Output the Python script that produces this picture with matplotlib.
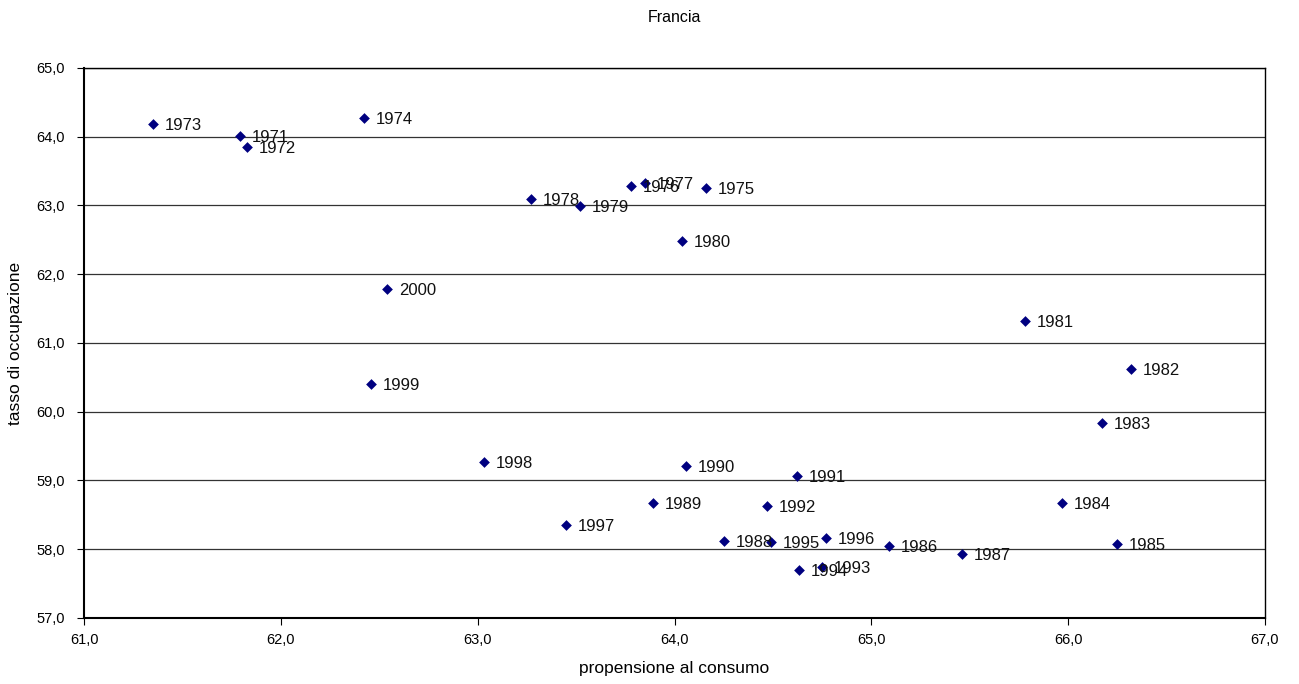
import matplotlib
matplotlib.use("Agg")
import matplotlib.pyplot as plt
from matplotlib.ticker import FuncFormatter, MultipleLocator

plt.rcParams.update({"font.family": ["Liberation Sans", "DejaVu Sans"]})

# propensione al consumo / tasso di occupazione, Francia 1971-2000
years = [1971, 1972, 1973, 1974, 1975, 1976, 1977, 1978, 1979, 1980,
         1981, 1982, 1983, 1984, 1985, 1986, 1987, 1988, 1989, 1990,
         1991, 1992, 1993, 1994, 1995, 1996, 1997, 1998, 1999, 2000]
consumo = [61.79, 61.83, 61.35, 62.42, 64.16, 63.78, 63.85, 63.27, 63.52, 64.04,
           65.78, 66.32, 66.17, 65.97, 66.25, 65.09, 65.46, 64.25, 63.89, 64.06,
           64.62, 64.47, 64.75, 64.63, 64.49, 64.77, 63.45, 63.03, 62.46, 62.54]
occupazione = [64.01, 63.85, 64.19, 64.27, 63.25, 63.28, 63.33, 63.09, 62.99, 62.48,
               61.32, 60.62, 59.84, 58.67, 58.08, 58.05, 57.93, 58.12, 58.67, 59.21,
               59.07, 58.63, 57.74, 57.70, 58.11, 58.16, 58.35, 59.27, 60.40, 61.79]

fig = plt.figure(figsize=(12.99, 6.84), dpi=100)
ax = fig.add_axes([0.0647, 0.0965, 0.9091, 0.8041])

ax.scatter(consumo, occupazione, marker="D", s=30, color="#000080", zorder=3,
           linewidths=0)
for yr, x, y in zip(years, consumo, occupazione):
    ax.annotate(str(yr), (x, y), xytext=(8.5, -1), textcoords="offset points",
                va="center", ha="left", fontsize=12, color="#111111", zorder=4)

ax.set_xlim(61, 67)
ax.set_ylim(57, 65)
ax.xaxis.set_major_locator(MultipleLocator(1))
ax.yaxis.set_major_locator(MultipleLocator(1))
fmt = FuncFormatter(lambda v, p: f"{v:.1f}".replace(".", ","))
ax.xaxis.set_major_formatter(fmt)
ax.yaxis.set_major_formatter(fmt)
ax.yaxis.grid(True, color="#333333", lw=0.9)
ax.set_axisbelow(True)
ax.tick_params(labelsize=10.5, length=5, width=0.8, colors="black")
ax.tick_params(axis="y", pad=9)
ax.tick_params(axis="x", pad=6)
for s in ax.spines.values():
    s.set_color("black")
    s.set_linewidth(1.0)
ax.spines["left"].set_linewidth(1.5)
ax.spines["bottom"].set_linewidth(1.5)

ax.set_xlabel("propensione al consumo", fontsize=12.5, labelpad=10)
ax.set_ylabel("tasso di occupazione", fontsize=12.5, labelpad=9)
ax.set_title("Francia", fontsize=11.5, pad=33)

fig.savefig("out.png", dpi=100)
